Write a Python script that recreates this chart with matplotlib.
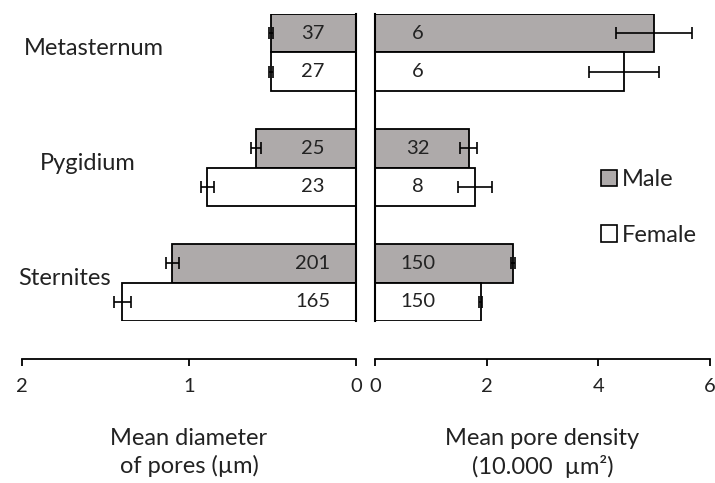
import numpy as np
import matplotlib
matplotlib.use("Agg")
import matplotlib.pyplot as plt
from matplotlib.patches import Patch

plt.rcParams["font.family"] = ["Lato", "DejaVu Sans"]

# data, bottom to top as drawn: Sternites, Pygidium, Metasternum
regions = ["Sternites", "Pygidium", "Metasternum"]
diam_male = [1.10, 0.60, 0.51]
diam_male_err = [0.04, 0.03, 0.01]
diam_female = [1.40, 0.89, 0.51]
diam_female_err = [0.05, 0.04, 0.01]
dens_male = [2.47, 1.68, 5.00]
dens_male_err = [0.03, 0.15, 0.68]
dens_female = [1.89, 1.79, 4.46]
dens_female_err = [0.03, 0.31, 0.62]
n_diam_male = [201, 25, 37]
n_diam_female = [165, 23, 27]
n_dens_male = [150, 32, 6]
n_dens_female = [150, 8, 6]

GRAY = "#AEAAAA"
TXT = "#222222"
FS = 14.5     # numbers and ticks
FL = 17       # labels and legend

fig = plt.figure(figsize=(7.15, 4.83), dpi=100)
axL = fig.add_axes([22 / 715, 1 - 321 / 483, 334 / 715, 307 / 483])
axR = fig.add_axes([375 / 715, 1 - 321 / 483, 335 / 715, 307 / 483])

y = np.arange(len(regions))
h = 1 / 3


def panel(ax, male, male_err, female, female_err, n_male, n_female, xlim, ticks, off):
    ekw = dict(ecolor="black", elinewidth=1.2, capsize=4, capthick=1.2)
    ax.barh(y + h / 2, male, h, xerr=male_err, color=GRAY, edgecolor="black",
            linewidth=1.3, error_kw=ekw)
    ax.barh(y - h / 2, female, h, xerr=female_err, color="white", edgecolor="black",
            linewidth=1.3, error_kw=ekw)
    for yy, nm, nf in zip(y, n_male, n_female):
        ax.annotate(str(nm), (0, yy + h / 2), xytext=(off, 0), textcoords="offset points",
                    ha="center", va="center", fontsize=FS, color=TXT)
        ax.annotate(str(nf), (0, yy - h / 2), xytext=(off, 0), textcoords="offset points",
                    ha="center", va="center", fontsize=FS, color=TXT)
    ax.set_xlim(*xlim)
    ax.set_ylim(-h, len(regions) - 1 + h)
    ax.set_xticks(ticks)
    ax.set_xticklabels([str(t) for t in ticks])
    ax.set_yticks([])
    for s in ("top", "left", "right"):
        ax.spines[s].set_visible(False)
    ax.spines["bottom"].set_position(("outward", 27))
    ax.spines["bottom"].set_linewidth(1.3)
    ax.tick_params(axis="x", direction="out", length=5, width=1.3, pad=9,
                   labelsize=FS, labelcolor=TXT)


panel(axL, diam_male, diam_male_err, diam_female, diam_female_err,
      n_diam_male, n_diam_female, (2, 0), [2, 1, 0], -31)
axL.spines["right"].set_visible(True)
axL.spines["right"].set_linewidth(1.5)

panel(axR, dens_male, dens_male_err, dens_female, dens_female_err,
      n_dens_male, n_dens_female, (0, 6), [0, 2, 4, 6], 31)
axR.spines["left"].set_visible(True)
axR.spines["left"].set_linewidth(1.5)

# region labels, left edge in axes fraction
label_x = [-0.012, 0.054, 0.006]
for yy, name, lx in zip(y, regions, label_x):
    axL.text(lx, yy + 0.035, name, transform=axL.get_yaxis_transform(), ha="left",
             va="center", fontsize=FL, color=TXT)

axL.set_xlabel("Mean diameter\nof pores (\u00b5m)", fontsize=FL, labelpad=24,
               linespacing=1.3, color=TXT)
axR.set_xlabel("Mean pore density\n(10.000  \u00b5m\u00b2)", fontsize=FL, labelpad=24,
               linespacing=1.3, color=TXT)

handles = [Patch(facecolor=GRAY, edgecolor="black", linewidth=1.2, label="Male"),
           Patch(facecolor="white", edgecolor="black", linewidth=1.2, label="Female")]
axR.legend(handles=handles, loc="center left", bbox_to_anchor=(0.61, 0.37),
           frameon=False, fontsize=FL, handlelength=0.7, handleheight=0.7,
           handletextpad=0.2, labelspacing=1.45, labelcolor=TXT)

fig.savefig("out.png", dpi=100)
